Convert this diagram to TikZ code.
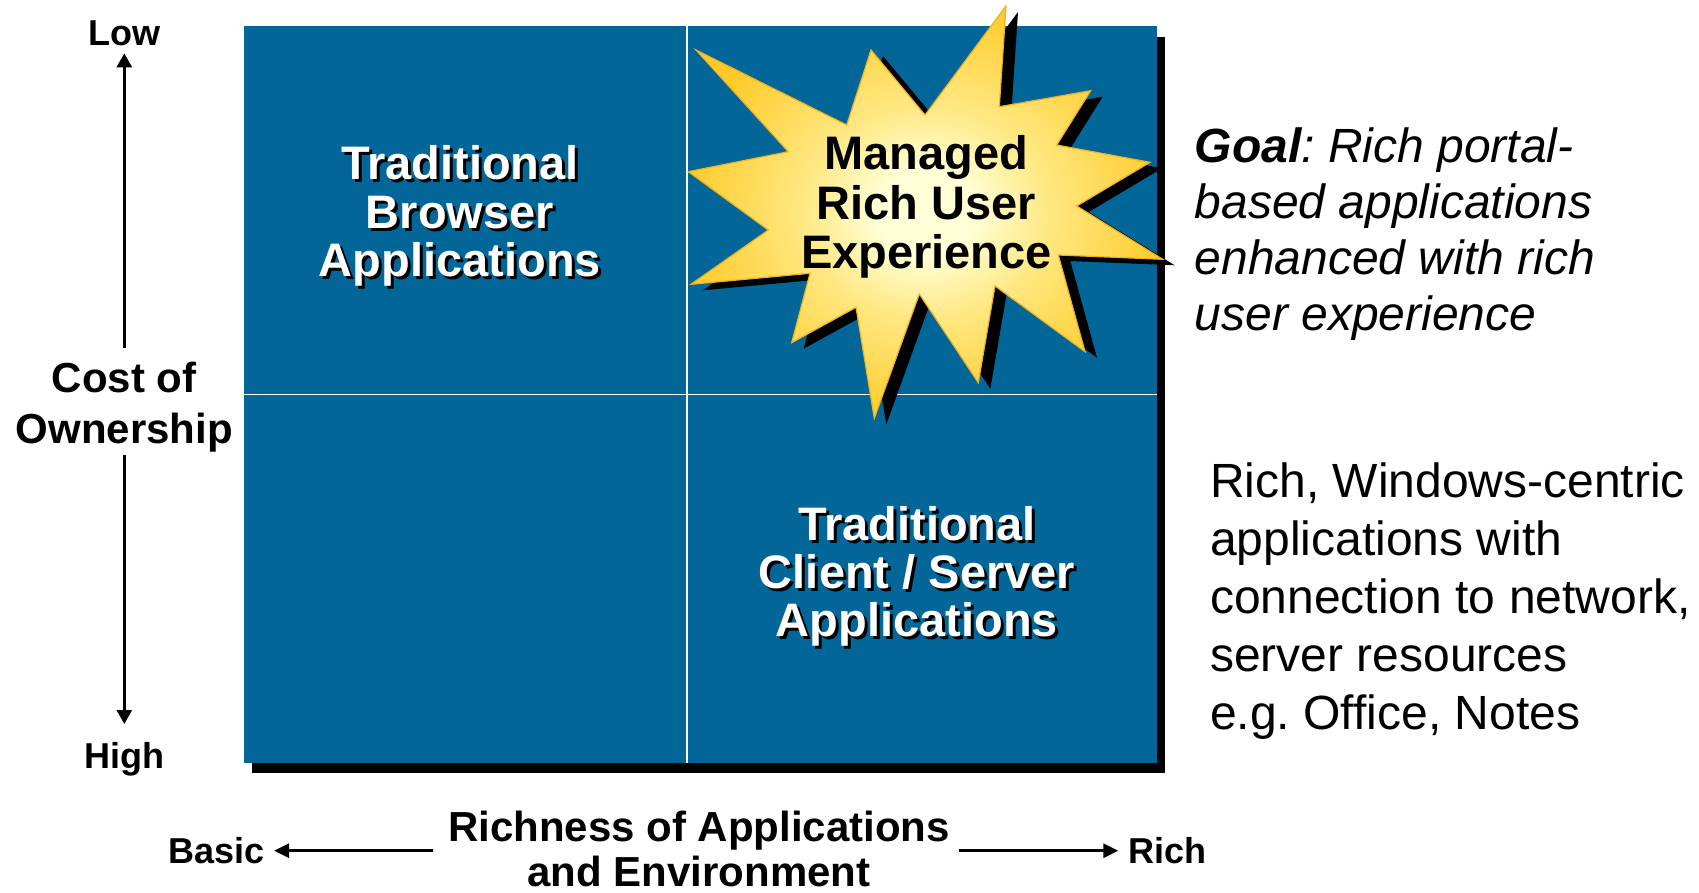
\documentclass[tikz,border=0pt]{standalone}
\usepackage{fontspec}
\setmainfont{Liberation Sans}
\usetikzlibrary{arrows.meta}
\frenchspacing
\definecolor{quadblue}{RGB}{3,102,153}
\definecolor{stargold}{RGB}{255,202,40}
\definecolor{starmid}{RGB}{255,232,130}
\definecolor{starlight}{RGB}{255,255,215}
\definecolor{staredge}{RGB}{238,178,30}
\pgfdeclareradialshading{starshade}{\pgfpoint{0bp}{0bp}}{color(0bp)=(starlight); color(5bp)=(starlight); color(13bp)=(starmid); color(26bp)=(stargold); color(50bp)=(stargold)}
\newcommand{\shadowed}[1]{\rlap{\kern3pt\raisebox{-3pt}{\textcolor{black}{#1}}}#1}
\newcommand{\starpath}{(696,50) -- (846.7,125) -- (871,50) -- (925,115) -- (1006,6) -- (999.3,106.7) -- (1090.7,90.7) -- (1056.7,145) -- (1150,162.3) -- (1076.7,206) -- (1162.7,259.3) -- (1058.3,255) -- (1085,351.7) -- (995,286) -- (978.3,382.7) -- (919.3,294) -- (874.3,418.3) -- (856,307.3) -- (791.7,342.7) -- (810,273.3) -- (691,284.3) -- (768.3,230) -- (688.3,171.7) -- (788.3,151.7) -- cycle}
\tikzset{
  axislbl/.style={font=\bfseries\fontsize{36}{40}\selectfont, inner sep=0pt, anchor=base},
  axistitle/.style={font=\bfseries\fontsize{42}{48}\selectfont, inner sep=0pt, anchor=base},
  quadtxt/.style={font=\bfseries\fontsize{47}{50}\selectfont, text=white, inner sep=0pt, anchor=base},
  startxt/.style={font=\bfseries\fontsize{47}{50}\selectfont, text=black, inner sep=0pt, anchor=base},
  sidetxt/.style={font=\fontsize{48}{55}\selectfont, inner sep=0pt, anchor=base west},
  vaxis/.style={line width=2.6pt, -{Triangle[length=14pt,width=15pt]}},
  haxis/.style={line width=2.8pt, -{Triangle[length=15pt,width=14pt]}},
  divider/.style={draw=white, line width=1.6pt},
}
\begin{document}
\begin{tikzpicture}[x=1pt,y=-1pt]
\useasboundingbox (0,0) rectangle (1699,893);
% matrix box
\fill[black] (252.3,37) rectangle (1165,773.3);
\fill[quadblue] (244.3,26) rectangle (1157.3,762.7);
\draw[divider] (687,26) -- (687,762.7);
\draw[divider] (244.3,394.3) -- (1157.3,394.3);
% quadrant labels
\node[quadtxt] (tb1) at (460,180) {\shadowed{Traditional}};
\node[quadtxt] (tb2) at (460,228.3) {\shadowed{Browser}};
\node[quadtxt] (tb3) at (460,276.7) {\shadowed{Applications}};
\node[quadtxt] (tc1) at (917,540) {\shadowed{Traditional}};
\node[quadtxt] (tc2) at (917,588.3) {\shadowed{Client / Server}};
\node[quadtxt] (tc3) at (917,636.7) {\shadowed{Applications}};
% star
\fill[black, shift={(12,6)}] \starpath;
\path[shading=starshade, draw=staredge, line width=1.2pt] \starpath;
\node[startxt] (st1) at (926.5,170) {Managed};
\node[startxt] (st2) at (926.5,220) {Rich User};
\node[startxt] (st3) at (926.5,268.3) {Experience};
% vertical axis
\node[axislbl] (low) at (124.3,46) {Low};
\node[axislbl] (high) at (124.3,768.3) {High};
\node[axistitle] (cost1) at (124.3,392) {Cost of};
\node[axistitle] (cost2) at (124.3,443.3) {Ownership};
\coordinate (upstart) at (124.3,347.7);
\coordinate (uptip) at (124.3,53.3);
\coordinate (downstart) at (124.3,455);
\coordinate (downtip) at (124.3,724);
\draw[vaxis] (upstart) -- (uptip);
\draw[vaxis] (downstart) -- (downtip);
% horizontal axis
\node[axislbl] (basic) at (216.7,863.3) {Basic};
\node[axislbl] (rich) at (1167,863.3) {Rich};
\node[axistitle] (rn1) at (699,841.5) {Richness of Applications};
\node[axistitle] (rn2) at (699,886) {and Environment};
\coordinate (leftstart) at (433.3,850.7);
\coordinate (lefttip) at (274,850.7);
\coordinate (rightstart) at (959.3,850.7);
\coordinate (righttip) at (1118.3,850.7);
\draw[haxis] (leftstart) -- (lefttip);
\draw[haxis] (rightstart) -- (righttip);
% side texts
\node[sidetxt] (g1) at (1194.6,163) {\textit{\textbf{Goal}: Rich portal-}};
\node[sidetxt] (g2) at (1194.6,218.5) {\textit{based applications}};
\node[sidetxt] (g3) at (1194.6,274.5) {\textit{enhanced with rich}};
\node[sidetxt] (g4) at (1194.6,330) {\textit{user experience}};
\node[sidetxt] (w1) at (1210,497) {Rich, Windows-centric};
\node[sidetxt] (w2) at (1210,555) {applications with};
\node[sidetxt] (w3) at (1210,613) {connection to network,};
\node[sidetxt] (w4) at (1210,671) {server resources};
\node[sidetxt] (w5) at (1210,729) {e.g. Office, Notes};
\end{tikzpicture}
\end{document}
